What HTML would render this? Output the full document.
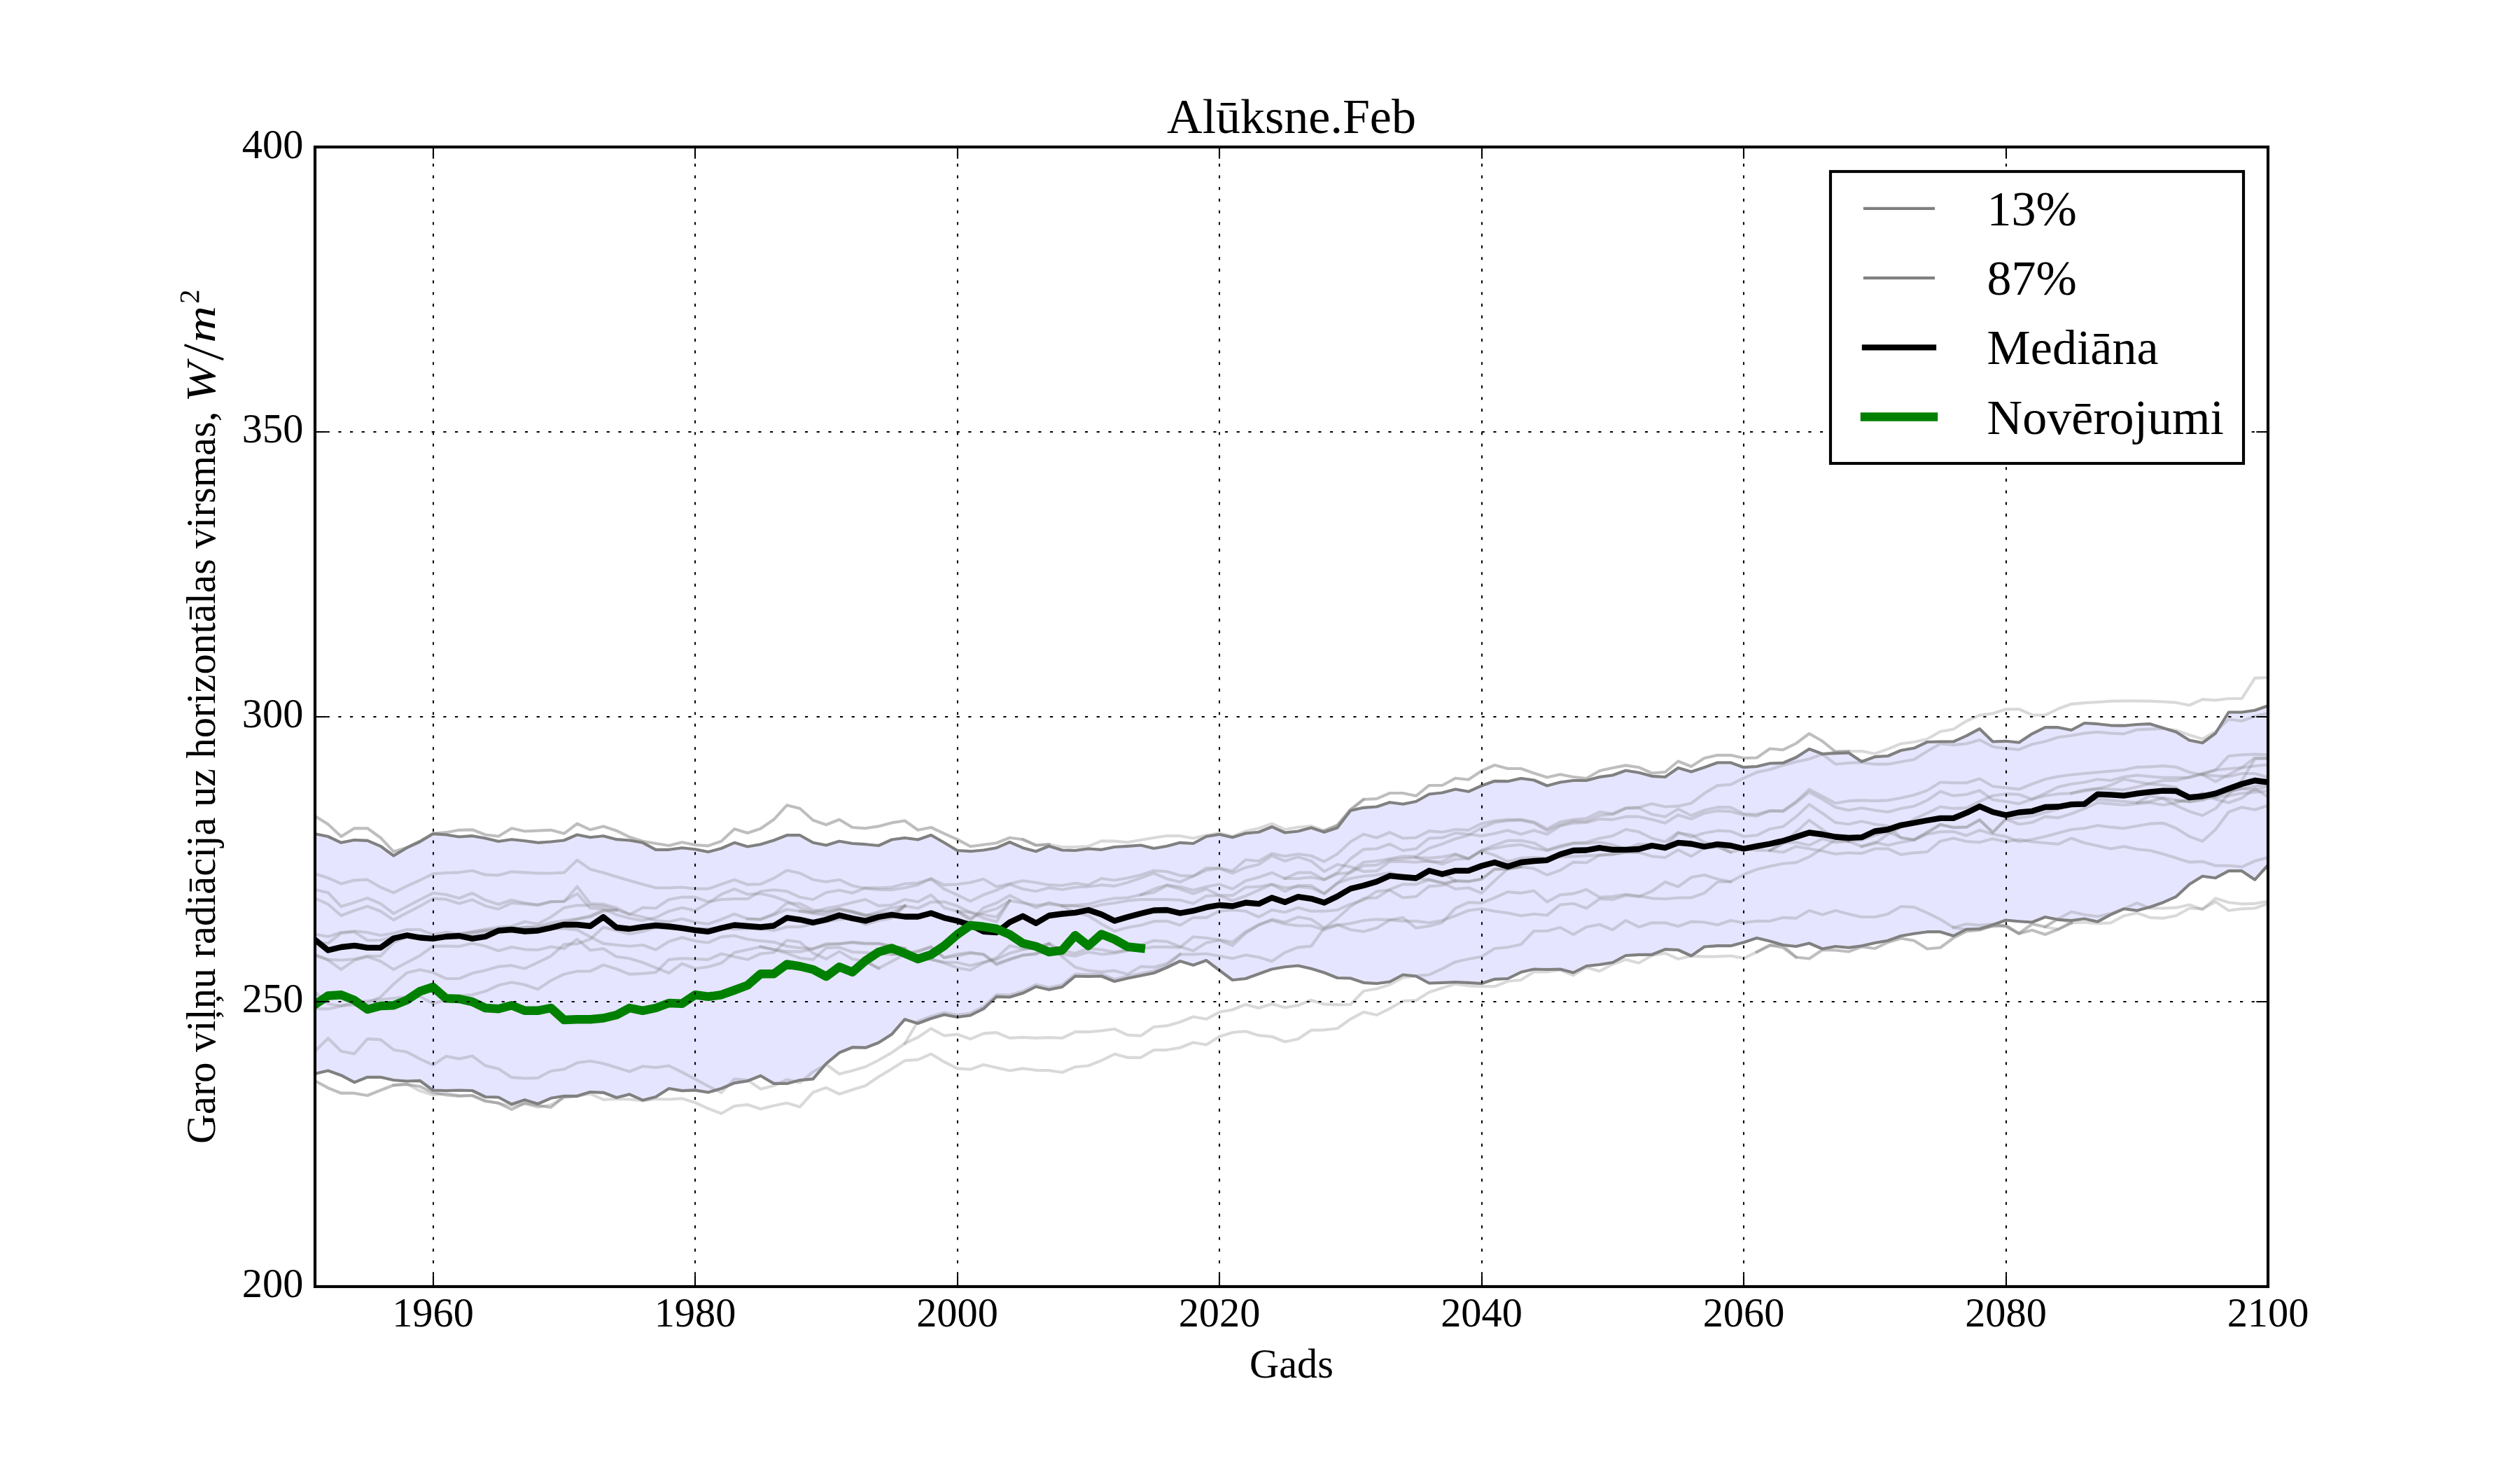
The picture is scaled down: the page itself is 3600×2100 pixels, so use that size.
<!DOCTYPE html>
<html><head><meta charset="utf-8"><style>html,body{margin:0;padding:0;background:#fff;width:3600px;height:2100px;overflow:hidden}</style></head>
<body><svg xmlns="http://www.w3.org/2000/svg" width="3600" height="2100" viewBox="0 0 3600 2100" style="display:block"><rect x="0" y="0" width="3600" height="2100" fill="#fff"/><defs><clipPath id="ax"><rect x="450" y="210" width="2790" height="1627.5"/></clipPath></defs><g clip-path="url(#ax)"><path d="M450.0 1191.2 L468.7 1195.0 L487.4 1203.8 L506.2 1200.0 L524.9 1200.8 L543.6 1208.8 L562.3 1222.5 L581.1 1211.2 L599.8 1202.5 L618.5 1191.2 L637.2 1192.5 L656.0 1195.5 L674.7 1194.2 L693.4 1197.5 L712.1 1202.0 L730.9 1199.2 L749.6 1201.2 L768.3 1203.8 L787.0 1202.5 L805.8 1200.5 L824.5 1192.5 L843.2 1196.2 L861.9 1194.2 L880.7 1199.2 L899.4 1200.5 L918.1 1203.8 L936.8 1213.8 L955.6 1213.8 L974.3 1211.2 L993.0 1213.2 L1011.7 1217.0 L1030.5 1212.0 L1049.2 1203.8 L1067.9 1209.5 L1086.6 1206.2 L1105.4 1200.5 L1124.1 1193.2 L1142.8 1193.2 L1161.5 1203.8 L1180.3 1207.5 L1199.0 1201.8 L1217.7 1205.0 L1236.4 1206.2 L1255.2 1208.0 L1273.9 1199.5 L1292.6 1197.0 L1311.3 1199.5 L1330.1 1193.0 L1348.8 1203.8 L1367.5 1215.0 L1386.2 1216.2 L1405.0 1214.5 L1423.7 1211.2 L1442.4 1203.0 L1461.1 1211.2 L1479.9 1216.2 L1498.6 1208.8 L1517.3 1214.5 L1536.0 1215.0 L1554.8 1212.5 L1573.5 1213.8 L1592.2 1210.0 L1610.9 1208.8 L1629.7 1207.5 L1648.4 1212.0 L1667.1 1208.8 L1685.8 1203.8 L1704.6 1205.0 L1723.3 1195.0 L1742.0 1192.0 L1760.7 1196.2 L1779.5 1190.5 L1798.2 1188.8 L1816.9 1181.2 L1835.6 1189.5 L1854.4 1187.5 L1873.1 1182.5 L1891.8 1188.8 L1910.5 1182.5 L1929.3 1158.0 L1948.0 1153.8 L1966.7 1152.5 L1985.4 1146.2 L2004.2 1148.8 L2022.9 1145.0 L2041.6 1134.5 L2060.3 1132.5 L2079.1 1127.5 L2097.8 1130.8 L2116.5 1122.5 L2135.2 1115.8 L2154.0 1116.2 L2172.7 1112.0 L2191.4 1114.5 L2210.1 1122.5 L2228.9 1117.5 L2247.6 1115.0 L2266.3 1115.0 L2285.0 1110.0 L2303.8 1107.5 L2322.5 1100.8 L2341.2 1103.8 L2359.9 1108.8 L2378.7 1110.0 L2397.4 1097.0 L2416.1 1102.5 L2434.8 1096.2 L2453.6 1089.5 L2472.3 1089.5 L2491.0 1096.2 L2509.7 1095.0 L2528.5 1090.5 L2547.2 1090.0 L2565.9 1082.0 L2584.6 1070.0 L2603.4 1077.0 L2622.1 1076.2 L2640.8 1075.5 L2659.5 1088.0 L2678.3 1081.2 L2697.0 1080.0 L2715.7 1072.0 L2734.4 1068.8 L2753.2 1060.0 L2771.9 1059.5 L2790.6 1059.5 L2809.3 1051.2 L2828.1 1041.2 L2846.8 1059.5 L2865.5 1058.8 L2884.2 1060.8 L2903.0 1048.3 L2921.7 1039.2 L2940.4 1039.2 L2959.1 1043.0 L2977.9 1033.0 L2996.6 1034.2 L3015.3 1036.3 L3034.0 1036.7 L3052.8 1035.0 L3071.5 1034.2 L3090.2 1040.0 L3108.9 1045.8 L3127.7 1057.5 L3146.4 1061.3 L3165.1 1047.5 L3183.8 1017.5 L3202.6 1017.5 L3221.3 1014.7 L3240.0 1008.3 L3240.0 1235.8 L3221.3 1256.7 L3202.6 1244.2 L3183.8 1244.2 L3165.1 1254.2 L3146.4 1251.7 L3127.7 1263.3 L3108.9 1280.8 L3090.2 1289.2 L3071.5 1295.8 L3052.8 1300.8 L3034.0 1298.3 L3015.3 1306.7 L2996.6 1316.7 L2977.9 1312.5 L2959.1 1315.0 L2940.4 1313.8 L2921.7 1310.0 L2903.0 1317.5 L2884.2 1316.2 L2865.5 1314.5 L2846.8 1321.2 L2828.1 1327.0 L2809.3 1327.5 L2790.6 1337.0 L2771.9 1331.2 L2753.2 1331.2 L2734.4 1333.8 L2715.7 1337.0 L2697.0 1343.8 L2678.3 1347.0 L2659.5 1351.2 L2640.8 1353.8 L2622.1 1352.0 L2603.4 1355.5 L2584.6 1347.5 L2565.9 1352.0 L2547.2 1350.0 L2528.5 1344.5 L2509.7 1340.0 L2491.0 1346.2 L2472.3 1351.2 L2453.6 1351.2 L2434.8 1352.5 L2416.1 1365.5 L2397.4 1357.0 L2378.7 1356.2 L2359.9 1363.8 L2341.2 1363.8 L2322.5 1365.0 L2303.8 1375.0 L2285.0 1378.0 L2266.3 1380.0 L2247.6 1389.5 L2228.9 1384.5 L2210.1 1385.0 L2191.4 1384.5 L2172.7 1388.8 L2154.0 1398.0 L2135.2 1398.8 L2116.5 1405.0 L2097.8 1403.8 L2079.1 1403.0 L2060.3 1403.8 L2041.6 1404.5 L2022.9 1394.5 L2004.2 1392.5 L1985.4 1402.5 L1966.7 1405.0 L1948.0 1403.8 L1929.3 1397.5 L1910.5 1397.0 L1891.8 1389.5 L1873.1 1383.8 L1854.4 1379.5 L1835.6 1381.2 L1816.9 1384.5 L1798.2 1391.2 L1779.5 1398.0 L1760.7 1400.0 L1742.0 1386.2 L1723.3 1372.0 L1704.6 1378.8 L1685.8 1373.0 L1667.1 1382.0 L1648.4 1390.0 L1629.7 1393.8 L1610.9 1397.5 L1592.2 1402.0 L1573.5 1394.5 L1554.8 1395.0 L1536.0 1394.5 L1517.3 1410.0 L1498.6 1413.8 L1479.9 1409.5 L1461.1 1418.8 L1442.4 1424.5 L1423.7 1423.8 L1405.0 1441.2 L1386.2 1450.5 L1367.5 1453.0 L1348.8 1449.5 L1330.1 1455.0 L1311.3 1462.0 L1292.6 1456.2 L1273.9 1477.6 L1255.2 1489.5 L1236.4 1496.7 L1217.7 1496.2 L1199.0 1503.8 L1180.3 1519.3 L1161.5 1541.4 L1142.8 1543.1 L1124.1 1547.9 L1105.4 1547.9 L1086.6 1536.7 L1067.9 1544.3 L1049.2 1547.1 L1030.5 1555.0 L1011.7 1560.5 L993.0 1557.4 L974.3 1558.1 L955.6 1555.0 L936.8 1566.9 L918.1 1571.7 L899.4 1563.3 L880.7 1568.0 L861.9 1560.8 L843.2 1560.0 L824.5 1565.8 L805.8 1565.8 L787.0 1568.8 L768.3 1577.0 L749.6 1571.2 L730.9 1577.5 L712.1 1567.5 L693.4 1567.0 L674.7 1558.0 L656.0 1557.5 L637.2 1558.0 L618.5 1557.5 L599.8 1543.8 L581.1 1544.5 L562.3 1543.0 L543.6 1538.8 L524.9 1538.8 L506.2 1546.2 L487.4 1536.2 L468.7 1529.5 L450.0 1533.8Z" fill="rgb(229,229,255)" stroke="rgb(229,229,255)" stroke-width="4.17" stroke-linejoin="round"/><path d="M450.0 1165.8 L468.7 1177.5 L487.4 1195.0 L506.2 1183.3 L524.9 1183.3 L543.6 1196.7 L562.3 1216.7 L581.1 1210.8 L599.8 1201.7 L618.5 1190.8 L637.2 1189.2 L656.0 1185.8 L674.7 1185.3 L693.4 1192.5 L712.1 1194.7 L730.9 1183.3 L749.6 1187.5 L768.3 1186.7 L787.0 1185.8 L805.8 1190.8 L824.5 1176.7 L843.2 1185.3 L861.9 1180.4 L880.7 1186.7 L899.4 1195.8 L918.1 1201.7 L936.8 1205.0 L955.6 1208.0 L974.3 1203.3 L993.0 1207.0 L1011.7 1208.3 L1030.5 1201.7 L1049.2 1184.2 L1067.9 1190.0 L1086.6 1183.7 L1105.4 1170.8 L1124.1 1150.3 L1142.8 1155.0 L1161.5 1171.7 L1180.3 1178.3 L1199.0 1170.8 L1217.7 1182.0 L1236.4 1183.3 L1255.2 1180.4 L1273.9 1175.4 L1292.6 1172.5 L1311.3 1185.8 L1330.1 1182.0 L1348.8 1190.8 L1367.5 1199.2 L1386.2 1209.2 L1405.0 1206.7 L1423.7 1204.2 L1442.4 1196.7 L1461.1 1199.2 L1479.9 1207.5 L1498.6 1206.3" fill="none" stroke="#808080" stroke-opacity="0.51" stroke-width="4.1667" stroke-linejoin="round" stroke-linecap="square"/><path d="M450.0 1248.3 L468.7 1254.2 L487.4 1262.5 L506.2 1257.5 L524.9 1256.7 L543.6 1267.5 L562.3 1275.3 L581.1 1265.8 L599.8 1257.5 L618.5 1248.3 L637.2 1247.0 L656.0 1246.3 L674.7 1243.7 L693.4 1249.7 L712.1 1250.3 L730.9 1245.3 L749.6 1246.3 L768.3 1247.5 L787.0 1247.5 L805.8 1246.7 L824.5 1228.7 L843.2 1241.7 L861.9 1246.7 L880.7 1252.5 L899.4 1258.0 L918.1 1263.3 L936.8 1268.3 L955.6 1268.3 L974.3 1267.5 L993.0 1269.7 L1011.7 1269.7 L1030.5 1263.3 L1049.2 1256.7 L1067.9 1263.7 L1086.6 1263.0 L1105.4 1254.7 L1124.1 1243.3 L1142.8 1247.5 L1161.5 1256.7 L1180.3 1259.7 L1199.0 1256.7 L1217.7 1265.3 L1236.4 1269.2 L1255.2 1270.8 L1273.9 1271.2 L1292.6 1268.3 L1311.3 1264.2 L1330.1 1255.0 L1348.8 1264.2 L1367.5 1263.3 L1386.2 1260.8 L1405.0 1255.8 L1423.7 1266.7 L1442.4 1262.5 L1461.1 1258.3 L1479.9 1260.8 L1498.6 1264.2 L1517.3 1265.0 L1536.0 1261.7 L1554.8 1264.2 L1573.5 1255.0 L1592.2 1257.5 L1610.9 1254.2 L1629.7 1250.0 L1648.4 1243.8 L1667.1 1245.0 L1685.8 1250.8 L1704.6 1251.7 L1723.3 1240.0 L1742.0 1240.0 L1760.7 1244.2 L1779.5 1228.3 L1798.2 1230.0 L1816.9 1219.2 L1835.6 1223.3 L1854.4 1220.0 L1873.1 1222.5 L1891.8 1230.8 L1910.5 1220.0 L1929.3 1202.5 L1948.0 1191.7 L1966.7 1196.7 L1985.4 1189.2 L2004.2 1197.5 L2022.9 1196.7 L2041.6 1187.1 L2060.3 1188.8 L2079.1 1185.0 L2097.8 1185.8 L2116.5 1176.7 L2135.2 1172.5 L2154.0 1170.8 L2172.7 1170.8 L2191.4 1174.2 L2210.1 1184.2 L2228.9 1174.2 L2247.6 1170.8 L2266.3 1169.2 L2285.0 1160.0 L2303.8 1162.5 L2322.5 1154.2 L2341.2 1153.3 L2359.9 1148.3 L2378.7 1152.5 L2397.4 1151.7 L2416.1 1147.5 L2434.8 1133.3 L2453.6 1122.1 L2472.3 1120.8 L2491.0 1111.7 L2509.7 1103.3 L2528.5 1099.2 L2547.2 1093.3 L2565.9 1088.3 L2584.6 1084.2 L2603.4 1077.5 L2622.1 1091.7 L2640.8 1090.0 L2659.5 1089.2 L2678.3 1091.7 L2697.0 1091.7 L2715.7 1088.3 L2734.4 1085.0 L2753.2 1073.3 L2771.9 1062.5 L2790.6 1064.2 L2809.3 1062.5 L2828.1 1057.0 L2846.8 1066.7 L2865.5 1069.2 L2884.2 1070.8 L2903.0 1063.3 L2921.7 1059.2 L2940.4 1053.3 L2959.1 1050.8 L2977.9 1047.5 L2996.6 1045.8 L3015.3 1047.5 L3034.0 1048.3 L3052.8 1042.5 L3071.5 1041.7 L3090.2 1040.8 L3108.9 1043.3 L3127.7 1050.0 L3146.4 1055.8 L3165.1 1045.0 L3183.8 1027.5 L3202.6 1030.0 L3221.3 1023.3 L3240.0 1019.2" fill="none" stroke="#808080" stroke-opacity="0.3" stroke-width="4.1667" stroke-linejoin="round" stroke-linecap="square"/><path d="M450.0 1270.8 L468.7 1275.3 L487.4 1295.0 L506.2 1289.2 L524.9 1283.0 L543.6 1290.8 L562.3 1305.0 L581.1 1295.0 L599.8 1285.3 L618.5 1275.8 L637.2 1278.0 L656.0 1283.3 L674.7 1275.8 L693.4 1285.8 L712.1 1292.0 L730.9 1285.8 L749.6 1290.0 L768.3 1292.5 L787.0 1288.0 L805.8 1288.0 L824.5 1266.7 L843.2 1290.8 L861.9 1291.7 L880.7 1296.7 L899.4 1306.7 L918.1 1296.7 L936.8 1297.5 L955.6 1285.0 L974.3 1281.7 L993.0 1281.7 L1011.7 1288.3 L1030.5 1285.0 L1049.2 1284.2 L1067.9 1284.2 L1086.6 1273.3 L1105.4 1271.3 L1124.1 1273.3 L1142.8 1281.7 L1161.5 1285.0 L1180.3 1275.0 L1199.0 1271.7 L1217.7 1275.8 L1236.4 1268.3 L1255.2 1268.3 L1273.9 1267.5 L1292.6 1262.5 L1311.3 1261.3 L1330.1 1255.8 L1348.8 1270.0 L1367.5 1278.3 L1386.2 1287.5 L1405.0 1278.3 L1423.7 1271.7 L1442.4 1263.3 L1461.1 1270.0 L1479.9 1273.3 L1498.6 1268.3 L1517.3 1270.8 L1536.0 1267.5 L1554.8 1266.7 L1573.5 1264.2 L1592.2 1265.8 L1610.9 1260.8 L1629.7 1254.2 L1648.4 1247.5 L1667.1 1255.4 L1685.8 1260.0 L1704.6 1251.7 L1723.3 1243.3 L1742.0 1240.8 L1760.7 1247.5 L1779.5 1239.2 L1798.2 1235.0 L1816.9 1222.5 L1835.6 1230.0 L1854.4 1224.2 L1873.1 1230.0 L1891.8 1245.0 L1910.5 1235.0 L1929.3 1238.3 L1948.0 1245.0 L1966.7 1244.2 L1985.4 1230.8 L2004.2 1230.8 L2022.9 1231.7 L2041.6 1230.0 L2060.3 1234.6 L2079.1 1227.5 L2097.8 1226.7 L2116.5 1215.8 L2135.2 1221.7 L2154.0 1230.8 L2172.7 1225.8 L2191.4 1225.0 L2210.1 1225.8 L2228.9 1224.2 L2247.6 1223.3 L2266.3 1222.5 L2285.0 1221.7 L2303.8 1220.0 L2322.5 1217.5 L2341.2 1217.5 L2359.9 1223.3 L2378.7 1225.0 L2397.4 1214.2 L2416.1 1223.3 L2434.8 1211.7 L2453.6 1210.0 L2472.3 1217.5 L2491.0 1213.0 L2509.7 1214.7 L2528.5 1215.0 L2547.2 1217.5 L2565.9 1209.2 L2584.6 1212.5 L2603.4 1215.8 L2622.1 1220.0 L2640.8 1218.3 L2659.5 1219.2 L2678.3 1212.5 L2697.0 1212.5 L2715.7 1220.8 L2734.4 1218.3 L2753.2 1217.0 L2771.9 1201.7 L2790.6 1197.5 L2809.3 1202.0 L2828.1 1203.3 L2846.8 1198.3 L2865.5 1202.5 L2884.2 1199.2 L2903.0 1202.5 L2921.7 1204.2 L2940.4 1205.8 L2959.1 1197.5 L2977.9 1204.2 L2996.6 1208.3 L3015.3 1212.5 L3034.0 1209.2 L3052.8 1213.3 L3071.5 1215.0 L3090.2 1220.0 L3108.9 1225.8 L3127.7 1231.7 L3146.4 1230.8 L3165.1 1236.7 L3183.8 1236.7 L3202.6 1238.3 L3221.3 1230.0 L3240.0 1225.0" fill="none" stroke="#808080" stroke-opacity="0.3" stroke-width="4.1667" stroke-linejoin="round" stroke-linecap="square"/><path d="M450.0 1283.3 L468.7 1291.7 L487.4 1308.0 L506.2 1300.8 L524.9 1294.7 L543.6 1301.7 L562.3 1314.2 L581.1 1304.2 L599.8 1294.7 L618.5 1283.7 L637.2 1284.7 L656.0 1290.8 L674.7 1285.3 L693.4 1294.2 L712.1 1298.7 L730.9 1290.0 L749.6 1291.3 L768.3 1293.3 L787.0 1288.3 L805.8 1287.5 L824.5 1276.7 L843.2 1297.5 L861.9 1298.3 L880.7 1306.7 L899.4 1311.7 L918.1 1315.0 L936.8 1310.8 L955.6 1301.7 L974.3 1296.7 L993.0 1300.8 L1011.7 1290.0 L1030.5 1277.5 L1049.2 1270.0 L1067.9 1277.5 L1086.6 1276.7 L1105.4 1280.8 L1124.1 1287.5 L1142.8 1296.7 L1161.5 1303.3 L1180.3 1303.3 L1199.0 1298.3 L1217.7 1302.5 L1236.4 1308.3 L1255.2 1305.0 L1273.9 1303.3 L1292.6 1294.2" fill="none" stroke="#808080" stroke-opacity="0.3" stroke-width="4.1667" stroke-linejoin="round" stroke-linecap="square"/><path d="M450.0 1334.7 L468.7 1338.0 L487.4 1332.0 L506.2 1330.3 L524.9 1332.0 L543.6 1336.3 L562.3 1333.3 L581.1 1328.0 L599.8 1328.0 L618.5 1335.0 L637.2 1331.7 L656.0 1334.2 L674.7 1330.8 L693.4 1327.5 L712.1 1324.7 L730.9 1323.3 L749.6 1316.7 L768.3 1320.0 L787.0 1310.0 L805.8 1296.7 L824.5 1293.3 L843.2 1293.3 L861.9 1294.6 L880.7 1300.0 L899.4 1305.8 L918.1 1310.0 L936.8 1315.0 L955.6 1316.7 L974.3 1312.5 L993.0 1317.5 L1011.7 1320.0 L1030.5 1313.3 L1049.2 1305.8 L1067.9 1312.5 L1086.6 1313.3 L1105.4 1305.8 L1124.1 1290.0 L1142.8 1290.8 L1161.5 1300.0 L1180.3 1301.7 L1199.0 1298.3 L1217.7 1301.7 L1236.4 1306.7 L1255.2 1310.0 L1273.9 1308.3 L1292.6 1294.2" fill="none" stroke="#808080" stroke-opacity="0.3" stroke-width="4.1667" stroke-linejoin="round" stroke-linecap="square"/><path d="M450.0 1345.8 L468.7 1347.5 L487.4 1333.0 L506.2 1331.3 L524.9 1343.3 L543.6 1343.0 L562.3 1338.0 L581.1 1335.0 L599.8 1337.5 L618.5 1340.0 L637.2 1338.0 L656.0 1338.0 L674.7 1334.2 L693.4 1330.8 L712.1 1328.0 L730.9 1327.5 L749.6 1324.7 L768.3 1325.3 L787.0 1321.7 L805.8 1318.3 L824.5 1313.3 L843.2 1310.0 L861.9 1301.7 L880.7 1300.0" fill="none" stroke="#808080" stroke-opacity="0.3" stroke-width="4.1667" stroke-linejoin="round" stroke-linecap="square"/><path d="M712.1 1328.0 L730.9 1328.3 L749.6 1328.3 L768.3 1330.8 L787.0 1326.7 L805.8 1326.7 L824.5 1328.3 L843.2 1338.3 L861.9 1347.9 L880.7 1350.0 L899.4 1351.7 L918.1 1350.0 L936.8 1356.7 L955.6 1345.0 L974.3 1339.2 L993.0 1344.2 L1011.7 1346.7 L1030.5 1338.3 L1049.2 1336.7 L1067.9 1341.7 L1086.6 1344.2 L1105.4 1345.8 L1124.1 1351.7 L1142.8 1354.2 L1161.5 1355.0 L1180.3 1350.0 L1199.0 1348.3 L1217.7 1346.7 L1236.4 1348.3 L1255.2 1348.3 L1273.9 1351.7 L1292.6 1355.0" fill="none" stroke="#808080" stroke-opacity="0.3" stroke-width="4.1667" stroke-linejoin="round" stroke-linecap="square"/><path d="M656.0 1334.2 L674.7 1331.7 L693.4 1329.2 L712.1 1327.5 L730.9 1326.3 L749.6 1325.0 L768.3 1323.3 L787.0 1318.3 L805.8 1315.0 L824.5 1312.5 L843.2 1308.3 L861.9 1300.0 L880.7 1300.0" fill="none" stroke="#808080" stroke-opacity="0.3" stroke-width="4.1667" stroke-linejoin="round" stroke-linecap="square"/><path d="M450.0 1365.0 L468.7 1370.8 L487.4 1371.7 L506.2 1370.0 L524.9 1365.8 L543.6 1365.8 L562.3 1346.7 L581.1 1338.3 L599.8 1336.7 L618.5 1340.0 L637.2 1338.0" fill="none" stroke="#808080" stroke-opacity="0.3" stroke-width="4.1667" stroke-linejoin="round" stroke-linecap="square"/><path d="M450.0 1363.3 L468.7 1371.7 L487.4 1385.0 L506.2 1371.7 L524.9 1366.7 L543.6 1373.3 L562.3 1385.0 L581.1 1375.0 L599.8 1365.3 L618.5 1351.7 L637.2 1351.7 L656.0 1352.0 L674.7 1347.5 L693.4 1351.7 L712.1 1358.3 L730.9 1353.0 L749.6 1356.3 L768.3 1357.0 L787.0 1352.5 L805.8 1355.3 L824.5 1341.7 L843.2 1357.5 L861.9 1355.2 L880.7 1366.7 L899.4 1369.2 L918.1 1375.0 L936.8 1382.5 L955.6 1390.0 L974.3 1376.7 L993.0 1383.7 L1011.7 1381.3 L1030.5 1375.8 L1049.2 1360.8 L1067.9 1356.7 L1086.6 1352.5 L1105.4 1356.3 L1124.1 1359.2 L1142.8 1359.7 L1161.5 1355.8 L1180.3 1348.0 L1199.0 1348.3 L1217.7 1345.8 L1236.4 1347.5 L1255.2 1347.5 L1273.9 1351.7 L1292.6 1355.0" fill="none" stroke="#808080" stroke-opacity="0.3" stroke-width="4.1667" stroke-linejoin="round" stroke-linecap="square"/><path d="M450.0 1417.1 L468.7 1434.2 L487.4 1436.7 L506.2 1435.7 L524.9 1432.6 L543.6 1424.4 L562.3 1405.8 L581.1 1389.8 L599.8 1385.2 L618.5 1389.3 L637.2 1398.0 L656.0 1398.0 L674.7 1390.3 L693.4 1386.2 L712.1 1380.8 L730.9 1379.2 L749.6 1383.7 L768.3 1375.0 L787.0 1365.8 L805.8 1349.2 L824.5 1348.3 L843.2 1341.7 L861.9 1324.6 L880.7 1329.2 L899.4 1334.2 L918.1 1330.8 L936.8 1325.0 L955.6 1326.7 L974.3 1325.0 L993.0 1326.7 L1011.7 1326.7 L1030.5 1325.8 L1049.2 1327.5 L1067.9 1326.7 L1086.6 1326.7 L1105.4 1329.2 L1124.1 1324.2 L1142.8 1324.2 L1161.5 1320.0 L1180.3 1316.7 L1199.0 1313.3 L1217.7 1311.7 L1236.4 1320.8 L1255.2 1315.0 L1273.9 1311.7 L1292.6 1294.2" fill="none" stroke="#808080" stroke-opacity="0.3" stroke-width="4.1667" stroke-linejoin="round" stroke-linecap="square"/><path d="M450.0 1440.9 L468.7 1441.4 L487.4 1437.3 L506.2 1432.0 L524.9 1430.0 L543.6 1428.0 L562.3 1426.0 L581.1 1424.0 L599.8 1423.3 L618.5 1433.7 L637.2 1428.5 L656.0 1422.3 L674.7 1421.3 L693.4 1416.1 L712.1 1407.5 L730.9 1403.3 L749.6 1406.7 L768.3 1413.3 L787.0 1400.8 L805.8 1391.7 L824.5 1387.5 L843.2 1387.5 L861.9 1378.5 L880.7 1384.2 L899.4 1391.7 L918.1 1390.8 L936.8 1389.2 L955.6 1370.8 L974.3 1369.2 L993.0 1370.0 L1011.7 1370.8 L1030.5 1362.5 L1049.2 1366.7 L1067.9 1370.8 L1086.6 1362.5 L1105.4 1360.8 L1124.1 1343.3 L1142.8 1345.8 L1161.5 1361.7 L1180.3 1370.0 L1199.0 1359.2 L1217.7 1370.0 L1236.4 1373.3 L1255.2 1383.3" fill="none" stroke="#808080" stroke-opacity="0.3" stroke-width="4.1667" stroke-linejoin="round" stroke-linecap="square"/><path d="M450.0 1501.7 L468.7 1483.2 L487.4 1501.7 L506.2 1505.4 L524.9 1484.2 L543.6 1485.2 L562.3 1499.7 L581.1 1502.8 L599.8 1512.6 L618.5 1521.4 L637.2 1509.0 L656.0 1512.6 L674.7 1508.5 L693.4 1522.4 L712.1 1526.7 L730.9 1539.2 L749.6 1540.3 L768.3 1540.0 L787.0 1530.0 L805.8 1527.5 L824.5 1518.3 L843.2 1515.8 L861.9 1519.2 L880.7 1525.0 L899.4 1530.8 L918.1 1523.3 L936.8 1525.0 L955.6 1522.5 L974.3 1531.7 L993.0 1541.7 L1011.7 1551.7 L1030.5 1561.0 L1049.2 1541.4 L1067.9 1543.1 L1086.6 1555.7 L1105.4 1551.0 L1124.1 1542.4 L1142.8 1546.7 L1161.5 1531.2 L1180.3 1520.5 L1199.0 1534.3 L1217.7 1529.5 L1236.4 1524.0 L1255.2 1514.5 L1273.9 1503.8 L1292.6 1490.7 L1311.3 1481.9 L1330.1 1469.3 L1348.8 1479.5 L1367.5 1477.6 L1386.2 1484.3 L1405.0 1476.4 L1423.7 1475.2 L1442.4 1482.9 L1461.1 1481.9 L1479.9 1482.9 L1498.6 1482.1 L1517.3 1483.0 L1536.0 1474.2 L1554.8 1474.2 L1573.5 1472.5 L1592.2 1470.0 L1610.9 1478.7 L1629.7 1479.7 L1648.4 1467.0 L1667.1 1465.4 L1685.8 1460.0 L1704.6 1452.5 L1723.3 1455.8 L1742.0 1445.8 L1760.7 1442.5 L1779.5 1435.0 L1798.2 1440.0 L1816.9 1434.2 L1835.6 1439.2 L1854.4 1436.3 L1873.1 1428.7 L1891.8 1434.7 L1910.5 1435.3 L1929.3 1435.0 L1948.0 1415.8 L1966.7 1412.5 L1985.4 1406.7 L2004.2 1396.7 L2022.9 1394.2 L2041.6 1392.5 L2060.3 1383.8 L2079.1 1374.2 L2097.8 1370.0 L2116.5 1366.7 L2135.2 1355.0 L2154.0 1353.3 L2172.7 1349.2 L2191.4 1330.0 L2210.1 1330.0 L2228.9 1325.0 L2247.6 1335.0 L2266.3 1324.2 L2285.0 1320.8 L2303.8 1328.3 L2322.5 1315.0 L2341.2 1324.2 L2359.9 1318.3 L2378.7 1318.3 L2397.4 1323.3 L2416.1 1316.7 L2434.8 1317.5 L2453.6 1321.2 L2472.3 1315.0 L2491.0 1318.3 L2509.7 1315.8 L2528.5 1315.8 L2547.2 1310.8 L2565.9 1311.7 L2584.6 1300.8 L2603.4 1306.7 L2622.1 1300.8 L2640.8 1305.8 L2659.5 1310.0 L2678.3 1310.0 L2697.0 1305.8 L2715.7 1295.0 L2734.4 1295.8 L2753.2 1304.2 L2771.9 1313.3 L2790.6 1325.0 L2809.3 1320.0 L2828.1 1321.7 L2846.8 1320.0 L2865.5 1324.2 L2884.2 1333.3 L2903.0 1320.0 L2921.7 1324.2 L2940.4 1312.5 L2959.1 1302.5 L2977.9 1306.7 L2996.6 1309.2 L3015.3 1305.0 L3034.0 1298.3 L3052.8 1290.0 L3071.5 1297.5 L3090.2 1297.5 L3108.9 1296.7 L3127.7 1292.5 L3146.4 1299.2 L3165.1 1283.3 L3183.8 1289.2 L3202.6 1291.3 L3221.3 1290.8 L3240.0 1287.5" fill="none" stroke="#808080" stroke-opacity="0.3" stroke-width="4.1667" stroke-linejoin="round" stroke-linecap="square"/><path d="M450.0 1544.2 L468.7 1554.2 L487.4 1561.7 L506.2 1561.7 L524.9 1565.0 L543.6 1557.5 L562.3 1550.3 L581.1 1549.2 L599.8 1552.0 L618.5 1560.8 L637.2 1564.2 L656.0 1565.8 L674.7 1565.0 L693.4 1573.3 L712.1 1575.8 L730.9 1585.0 L749.6 1575.8 L768.3 1579.2 L787.0 1582.0 L805.8 1566.7 L824.5 1566.0" fill="none" stroke="#808080" stroke-opacity="0.51" stroke-width="4.1667" stroke-linejoin="round" stroke-linecap="square"/><path d="M562.3 1550.3 L581.1 1548.3 L599.8 1558.3 L618.5 1564.2 L637.2 1561.7 L656.0 1565.0 L674.7 1565.0 L693.4 1572.0 L712.1 1576.0 L730.9 1580.0 L749.6 1576.7 L768.3 1581.7 L787.0 1578.3 L805.8 1568.0 L824.5 1566.0 L843.2 1562.5 L861.9 1570.8 L880.7 1570.0 L899.4 1570.5 L918.1 1572.4 L936.8 1570.0 L955.6 1570.5 L974.3 1569.3 L993.0 1575.2 L1011.7 1583.6 L1030.5 1590.7 L1049.2 1580.0 L1067.9 1578.1 L1086.6 1584.3 L1105.4 1579.5 L1124.1 1575.7 L1142.8 1581.2 L1161.5 1560.5 L1180.3 1553.8 L1199.0 1562.9 L1217.7 1556.7 L1236.4 1551.0 L1255.2 1538.3 L1273.9 1527.1 L1292.6 1515.2 L1311.3 1513.8 L1330.1 1505.7 L1348.8 1516.9 L1367.5 1526.4 L1386.2 1527.6 L1405.0 1521.0 L1423.7 1525.2 L1442.4 1529.5 L1461.1 1526.4 L1479.9 1528.8 L1498.6 1529.2 L1517.3 1532.0 L1536.0 1524.2 L1554.8 1522.5 L1573.5 1515.0 L1592.2 1505.8 L1610.9 1510.8 L1629.7 1510.8 L1648.4 1500.0 L1667.1 1499.8 L1685.8 1496.7 L1704.6 1489.2 L1723.3 1492.5 L1742.0 1480.8 L1760.7 1475.0 L1779.5 1473.3 L1798.2 1479.2 L1816.9 1480.8 L1835.6 1488.3 L1854.4 1484.2 L1873.1 1471.7 L1891.8 1471.3 L1910.5 1469.2 L1929.3 1455.8 L1948.0 1445.8 L1966.7 1450.0 L1985.4 1440.8 L2004.2 1430.0 L2022.9 1429.2 L2041.6 1417.5 L2060.3 1411.2 L2079.1 1405.8 L2097.8 1408.3 L2116.5 1409.2 L2135.2 1409.2 L2154.0 1401.7 L2172.7 1400.0 L2191.4 1388.3 L2210.1 1388.3 L2228.9 1385.8 L2247.6 1393.3 L2266.3 1381.7 L2285.0 1387.5 L2303.8 1377.5 L2322.5 1370.8 L2341.2 1375.8 L2359.9 1365.0 L2378.7 1361.7 L2397.4 1370.0 L2416.1 1365.8 L2434.8 1366.7 L2453.6 1366.4 L2472.3 1365.5 L2491.0 1368.8 L2509.7 1360.0 L2528.5 1351.2 L2547.2 1350.0 L2565.9 1367.5" fill="none" stroke="#808080" stroke-opacity="0.3" stroke-width="4.1667" stroke-linejoin="round" stroke-linecap="square"/><path d="M1067.9 1312.5 L1086.6 1313.3 L1105.4 1306.7 L1124.1 1299.2 L1142.8 1301.7 L1161.5 1305.0 L1180.3 1307.5 L1199.0 1300.0 L1217.7 1303.3 L1236.4 1308.3 L1255.2 1302.5 L1273.9 1296.7 L1292.6 1294.2 L1311.3 1297.5 L1330.1 1288.7 L1348.8 1288.3 L1367.5 1294.2 L1386.2 1303.3 L1405.0 1306.7 L1423.7 1310.0 L1442.4 1286.7" fill="none" stroke="#808080" stroke-opacity="0.3" stroke-width="4.1667" stroke-linejoin="round" stroke-linecap="square"/><path d="M1142.8 1301.7 L1161.5 1303.3 L1180.3 1297.5 L1199.0 1294.2 L1217.7 1289.2 L1236.4 1285.0 L1255.2 1294.2 L1273.9 1292.9 L1292.6 1285.0 L1311.3 1288.3 L1330.1 1278.3 L1348.8 1296.7 L1367.5 1301.7 L1386.2 1303.3 L1405.0 1311.7 L1423.7 1316.7 L1442.4 1286.7" fill="none" stroke="#808080" stroke-opacity="0.3" stroke-width="4.1667" stroke-linejoin="round" stroke-linecap="square"/><path d="M1086.6 1352.5 L1105.4 1356.7 L1124.1 1361.7 L1142.8 1368.7 L1161.5 1370.8 L1180.3 1354.2 L1199.0 1353.3 L1217.7 1360.0 L1236.4 1360.8 L1255.2 1362.5 L1273.9 1363.3 L1292.6 1363.3" fill="none" stroke="#808080" stroke-opacity="0.3" stroke-width="4.1667" stroke-linejoin="round" stroke-linecap="square"/><path d="M1461.1 1199.2 L1479.9 1207.5 L1498.6 1206.3 L1517.3 1210.0 L1536.0 1210.0 L1554.8 1209.2 L1573.5 1201.3 L1592.2 1201.7 L1610.9 1203.3 L1629.7 1200.0 L1648.4 1196.7 L1667.1 1194.0 L1685.8 1194.2 L1704.6 1197.5 L1723.3 1193.3 L1742.0 1190.0 L1760.7 1195.0 L1779.5 1187.5 L1798.2 1183.3 L1816.9 1176.7 L1835.6 1185.0 L1854.4 1181.7 L1873.1 1180.0 L1891.8 1186.7 L1910.5 1179.2 L1929.3 1158.3 L1948.0 1142.0" fill="none" stroke="#808080" stroke-opacity="0.3" stroke-width="4.1667" stroke-linejoin="round" stroke-linecap="square"/><path d="M1367.5 1301.7 L1386.2 1315.0 L1405.0 1296.7 L1423.7 1290.0 L1442.4 1279.2 L1461.1 1288.3 L1479.9 1296.7 L1498.6 1289.2 L1517.3 1294.2 L1536.0 1293.3 L1554.8 1291.7 L1573.5 1286.7 L1592.2 1283.3 L1610.9 1282.5 L1629.7 1278.3 L1648.4 1270.0 L1667.1 1264.2 L1685.8 1266.7 L1704.6 1271.7 L1723.3 1266.7 L1742.0 1263.3 L1760.7 1270.0 L1779.5 1258.3 L1798.2 1253.3 L1816.9 1246.7 L1835.6 1255.0 L1854.4 1246.7 L1873.1 1246.7 L1891.8 1256.7 L1910.5 1248.3 L1929.3 1246.7 L1948.0 1236.7 L1966.7 1235.8 L1985.4 1228.3 L2004.2 1226.7 L2022.9 1225.0 L2041.6 1230.8 L2060.3 1230.8 L2079.1 1220.8 L2097.8 1226.7 L2116.5 1215.0 L2135.2 1211.7 L2154.0 1208.3 L2172.7 1206.7 L2191.4 1211.7 L2210.1 1215.0 L2228.9 1210.0 L2247.6 1205.0 L2266.3 1205.0 L2285.0 1203.3 L2303.8 1206.7 L2322.5 1213.3 L2341.2 1205.8 L2359.9 1206.7 L2378.7 1210.0 L2397.4 1190.0 L2416.1 1192.5 L2434.8 1203.3 L2453.6 1208.3 L2472.3 1217.5" fill="none" stroke="#808080" stroke-opacity="0.3" stroke-width="4.1667" stroke-linejoin="round" stroke-linecap="square"/><path d="M1367.5 1301.7 L1386.2 1311.7 L1405.0 1303.3 L1423.7 1298.3 L1442.4 1286.7 L1461.1 1290.0 L1479.9 1293.3 L1498.6 1291.7 L1517.3 1293.3 L1536.0 1294.2 L1554.8 1296.7 L1573.5 1292.5 L1592.2 1290.0 L1610.9 1286.7 L1629.7 1285.0 L1648.4 1285.0 L1667.1 1285.0 L1685.8 1285.8 L1704.6 1290.8 L1723.3 1280.0 L1742.0 1279.2 L1760.7 1279.2 L1779.5 1267.5 L1798.2 1266.7 L1816.9 1263.3 L1835.6 1273.3 L1854.4 1265.0 L1873.1 1265.0 L1891.8 1276.7 L1910.5 1261.7 L1929.3 1255.0 L1948.0 1251.7 L1966.7 1250.0 L1985.4 1246.7 L2004.2 1253.3 L2022.9 1255.0 L2041.6 1245.0 L2060.3 1246.7 L2079.1 1258.3" fill="none" stroke="#808080" stroke-opacity="0.3" stroke-width="4.1667" stroke-linejoin="round" stroke-linecap="square"/><path d="M1517.3 1294.2 L1536.0 1303.3 L1554.8 1308.3 L1573.5 1320.0 L1592.2 1330.0 L1610.9 1325.0 L1629.7 1321.7 L1648.4 1316.2 L1667.1 1315.8 L1685.8 1321.7 L1704.6 1310.8 L1723.3 1310.8 L1742.0 1301.7 L1760.7 1300.0 L1779.5 1301.7 L1798.2 1310.0 L1816.9 1300.0 L1835.6 1303.3 L1854.4 1296.7 L1873.1 1301.7 L1891.8 1301.7 L1910.5 1300.0 L1929.3 1291.7 L1948.0 1285.8 L1966.7 1273.3 L1985.4 1271.7 L2004.2 1282.5 L2022.9 1280.8 L2041.6 1266.2 L2060.3 1265.0 L2079.1 1258.3 L2097.8 1259.2 L2116.5 1255.8 L2135.2 1241.7 L2154.0 1241.3 L2172.7 1238.3" fill="none" stroke="#808080" stroke-opacity="0.3" stroke-width="4.1667" stroke-linejoin="round" stroke-linecap="square"/><path d="M1236.4 1373.3 L1255.2 1383.3 L1273.9 1373.3 L1292.6 1363.3 L1311.3 1358.3 L1330.1 1353.3 L1348.8 1368.3 L1367.5 1365.8 L1386.2 1361.7 L1405.0 1363.3 L1423.7 1376.7 L1442.4 1370.0 L1461.1 1364.2 L1479.9 1363.3 L1498.6 1348.3 L1517.3 1366.7 L1536.0 1381.7 L1554.8 1386.7 L1573.5 1388.3 L1592.2 1386.7 L1610.9 1391.7 L1629.7 1380.8 L1648.4 1381.7 L1667.1 1376.2 L1685.8 1363.3 L1704.6 1363.3 L1723.3 1362.5 L1742.0 1365.8 L1760.7 1369.2 L1779.5 1364.2 L1798.2 1367.5 L1816.9 1373.3 L1835.6 1360.8 L1854.4 1353.3 L1873.1 1351.7 L1891.8 1325.8 L1910.5 1311.7 L1929.3 1295.0 L1948.0 1283.3 L1966.7 1282.5 L1985.4 1270.8 L2004.2 1263.3 L2022.9 1263.3 L2041.6 1256.7 L2060.3 1261.7 L2079.1 1258.3 L2097.8 1259.2 L2116.5 1255.8 L2135.2 1241.7 L2154.0 1241.7 L2172.7 1238.3 L2191.4 1240.8 L2210.1 1250.0 L2228.9 1243.3 L2247.6 1231.7 L2266.3 1232.5 L2285.0 1221.7 L2303.8 1220.8 L2322.5 1217.5 L2341.2 1217.5" fill="none" stroke="#808080" stroke-opacity="0.3" stroke-width="4.1667" stroke-linejoin="round" stroke-linecap="square"/><path d="M1273.9 1351.7 L1292.6 1355.0 L1311.3 1368.0 L1330.1 1370.0 L1348.8 1375.8 L1367.5 1382.5 L1386.2 1386.0 L1405.0 1375.5 L1423.7 1368.3 L1442.4 1351.0 L1461.1 1355.0 L1479.9 1355.0 L1498.6 1347.5 L1517.3 1358.3 L1536.0 1361.7 L1554.8 1355.0 L1573.5 1356.7 L1592.2 1360.0 L1610.9 1356.7 L1629.7 1350.0 L1648.4 1343.8 L1667.1 1345.0 L1685.8 1352.5 L1704.6 1358.3 L1723.3 1346.7 L1742.0 1343.3 L1760.7 1350.8 L1779.5 1333.3 L1798.2 1321.7 L1816.9 1313.3 L1835.6 1317.5 L1854.4 1310.0 L1873.1 1313.3 L1891.8 1325.8 L1910.5 1320.8 L1929.3 1328.3 L1948.0 1330.8 L1966.7 1325.8 L1985.4 1314.2 L2004.2 1310.8 L2022.9 1325.8 L2041.6 1322.9 L2060.3 1317.9 L2079.1 1297.5 L2097.8 1289.2 L2116.5 1290.0 L2135.2 1282.5 L2154.0 1274.2 L2172.7 1275.8 L2191.4 1272.5 L2210.1 1288.3 L2228.9 1278.3 L2247.6 1276.7 L2266.3 1270.8 L2285.0 1281.7 L2303.8 1280.8 L2322.5 1277.5 L2341.2 1280.0 L2359.9 1283.3 L2378.7 1284.2 L2397.4 1282.5 L2416.1 1282.5 L2434.8 1275.8 L2453.6 1260.0 L2472.3 1259.6 L2491.0 1249.2 L2509.7 1242.1 L2528.5 1237.5 L2547.2 1233.8 L2565.9 1232.1 L2584.6 1224.2 L2603.4 1212.1 L2622.1 1200.0 L2640.8 1201.7" fill="none" stroke="#808080" stroke-opacity="0.3" stroke-width="4.1667" stroke-linejoin="round" stroke-linecap="square"/><path d="M1273.9 1363.3 L1292.6 1361.7 L1311.3 1360.0 L1330.1 1352.0 L1348.8 1368.0 L1367.5 1363.0 L1386.2 1360.5 L1405.0 1363.5 L1423.7 1378.0 L1442.4 1371.0 L1461.1 1365.0 L1479.9 1362.0 L1498.6 1360.0 L1517.3 1363.3 L1536.0 1365.8 L1554.8 1360.0 L1573.5 1363.3 L1592.2 1361.7 L1610.9 1358.3 L1629.7 1355.0 L1648.4 1352.9 L1667.1 1352.9 L1685.8 1353.3 L1704.6 1338.3 L1723.3 1340.0 L1742.0 1342.5 L1760.7 1345.8 L1779.5 1330.8 L1798.2 1320.8 L1816.9 1315.0 L1835.6 1320.0 L1854.4 1322.5 L1873.1 1322.5 L1891.8 1328.3 L1910.5 1321.7 L1929.3 1319.2 L1948.0 1315.0 L1966.7 1313.3 L1985.4 1314.2 L2004.2 1315.8 L2022.9 1315.8 L2041.6 1318.3 L2060.3 1315.0 L2079.1 1308.3 L2097.8 1300.8 L2116.5 1298.3 L2135.2 1301.7 L2154.0 1304.2 L2172.7 1308.3 L2191.4 1305.8 L2210.1 1307.5 L2228.9 1292.5 L2247.6 1290.8 L2266.3 1297.5 L2285.0 1284.2 L2303.8 1285.0 L2322.5 1279.2 L2341.2 1280.8 L2359.9 1273.3 L2378.7 1260.0 L2397.4 1266.7 L2416.1 1253.3 L2434.8 1250.0 L2453.6 1255.8 L2472.3 1259.6" fill="none" stroke="#808080" stroke-opacity="0.3" stroke-width="4.1667" stroke-linejoin="round" stroke-linecap="square"/><path d="M1311.3 1368.0 L1330.1 1371.0 L1348.8 1374.5 L1367.5 1375.0 L1386.2 1379.5 L1405.0 1374.5 L1423.7 1370.5 L1442.4 1361.7 L1461.1 1356.7 L1479.9 1353.3 L1498.6 1348.3" fill="none" stroke="#808080" stroke-opacity="0.3" stroke-width="4.1667" stroke-linejoin="round" stroke-linecap="square"/><path d="M1292.6 1490.7 L1311.3 1459.0 L1330.1 1452.0 L1348.8 1446.5 L1367.5 1450.0 L1386.2 1447.5 L1405.0 1438.2 L1423.7 1420.8 L1442.4 1421.5 L1461.1 1415.8 L1479.9 1406.5 L1498.6 1410.8 L1517.3 1407.0 L1536.0 1391.5 L1554.8 1392.0 L1573.5 1391.5 L1592.2 1399.0 L1610.9 1394.5 L1629.7 1390.8 L1648.4 1387.0 L1667.1 1379.0 L1685.8 1363.3" fill="none" stroke="#808080" stroke-opacity="0.3" stroke-width="4.1667" stroke-linejoin="round" stroke-linecap="square"/><path d="M1891.8 1186.7 L1910.5 1178.8 L1929.3 1156.2 L1948.0 1142.0 L1966.7 1141.2 L1985.4 1133.0 L2004.2 1133.0 L2022.9 1137.0 L2041.6 1122.0 L2060.3 1122.0 L2079.1 1111.8 L2097.8 1113.8 L2116.5 1101.2 L2135.2 1093.0 L2154.0 1098.0 L2172.7 1098.0 L2191.4 1104.5 L2210.1 1110.5 L2228.9 1106.2 L2247.6 1110.0 L2266.3 1112.0 L2285.0 1101.2 L2303.8 1097.0 L2322.5 1093.4 L2341.2 1096.2 L2359.9 1104.5 L2378.7 1103.0 L2397.4 1087.5 L2416.1 1095.0 L2434.8 1083.0 L2453.6 1078.8 L2472.3 1078.8 L2491.0 1083.0 L2509.7 1082.5 L2528.5 1069.5 L2547.2 1071.2 L2565.9 1062.0 L2584.6 1048.0 L2603.4 1058.8 L2622.1 1073.8 L2640.8 1073.3" fill="none" stroke="#808080" stroke-opacity="0.51" stroke-width="4.1667" stroke-linejoin="round" stroke-linecap="square"/><path d="M1835.6 1255.0 L1854.4 1255.0 L1873.1 1253.3 L1891.8 1256.7 L1910.5 1246.7 L1929.3 1226.7 L1948.0 1213.3 L1966.7 1212.5 L1985.4 1205.8 L2004.2 1215.0 L2022.9 1212.5 L2041.6 1197.5 L2060.3 1196.7 L2079.1 1190.0 L2097.8 1191.7 L2116.5 1194.2 L2135.2 1190.8 L2154.0 1186.3 L2172.7 1191.7 L2191.4 1186.3 L2210.1 1191.7 L2228.9 1180.0 L2247.6 1175.8 L2266.3 1175.0 L2285.0 1170.0 L2303.8 1170.8 L2322.5 1166.7 L2341.2 1166.7 L2359.9 1170.8 L2378.7 1175.8 L2397.4 1164.2 L2416.1 1170.0 L2434.8 1161.7 L2453.6 1158.3 L2472.3 1159.2 L2491.0 1164.2 L2509.7 1165.8 L2528.5 1158.3 L2547.2 1159.2 L2565.9 1146.7 L2584.6 1131.7 L2603.4 1141.7 L2622.1 1153.3 L2640.8 1157.5 L2659.5 1154.2 L2678.3 1157.5 L2697.0 1160.0 L2715.7 1155.0 L2734.4 1151.7 L2753.2 1143.3 L2771.9 1130.8 L2790.6 1136.7 L2809.3 1135.0 L2828.1 1129.2 L2846.8 1142.5 L2865.5 1145.0 L2884.2 1148.3 L2903.0 1141.7 L2921.7 1136.7 L2940.4 1134.2 L2959.1 1133.3 L2977.9 1130.0 L2996.6 1126.7 L3015.3 1127.5 L3034.0 1128.3 L3052.8 1124.2 L3071.5 1119.2 L3090.2 1115.0 L3108.9 1115.0 L3127.7 1110.0 L3146.4 1105.0 L3165.1 1100.0 L3183.8 1098.3 L3202.6 1096.7 L3221.3 1094.2 L3240.0 1092.5" fill="none" stroke="#808080" stroke-opacity="0.3" stroke-width="4.1667" stroke-linejoin="round" stroke-linecap="square"/><path d="M1629.7 1278.3 L1648.4 1275.0 L1667.1 1265.0 L1685.8 1270.0 L1704.6 1276.7 L1723.3 1270.0 L1742.0 1279.2 L1760.7 1286.7 L1779.5 1280.0 L1798.2 1271.7 L1816.9 1263.3 L1835.6 1268.3 L1854.4 1266.7 L1873.1 1268.3 L1891.8 1276.7 L1910.5 1261.7 L1929.3 1245.0 L1948.0 1231.7 L1966.7 1230.0 L1985.4 1226.7 L2004.2 1223.3 L2022.9 1223.3 L2041.6 1211.7 L2060.3 1205.8 L2079.1 1198.3 L2097.8 1193.3 L2116.5 1182.5 L2135.2 1175.0 L2154.0 1172.5 L2172.7 1171.7 L2191.4 1175.8 L2210.1 1186.7 L2228.9 1178.3 L2247.6 1173.3 L2266.3 1173.3 L2285.0 1165.0 L2303.8 1163.3 L2322.5 1155.0 L2341.2 1154.2 L2359.9 1163.3 L2378.7 1166.7 L2397.4 1155.8 L2416.1 1165.0 L2434.8 1157.5 L2453.6 1153.2 L2472.3 1153.3 L2491.0 1162.5 L2509.7 1163.3 L2528.5 1158.3 L2547.2 1158.3 L2565.9 1145.0 L2584.6 1127.5 L2603.4 1137.5 L2622.1 1147.5 L2640.8 1144.2 L2659.5 1143.3 L2678.3 1144.2 L2697.0 1143.3 L2715.7 1140.0 L2734.4 1135.8 L2753.2 1129.2 L2771.9 1117.5 L2790.6 1118.3 L2809.3 1118.3 L2828.1 1112.5 L2846.8 1123.3 L2865.5 1125.4 L2884.2 1127.5 L2903.0 1120.0 L2921.7 1113.3 L2940.4 1109.2 L2959.1 1106.7 L2977.9 1105.0 L2996.6 1103.3 L3015.3 1101.7 L3034.0 1100.0 L3052.8 1095.8 L3071.5 1095.3 L3090.2 1094.2 L3108.9 1095.8 L3127.7 1103.3 L3146.4 1106.7 L3165.1 1108.3 L3183.8 1109.2 L3202.6 1105.0 L3221.3 1105.0 L3240.0 1110.8" fill="none" stroke="#808080" stroke-opacity="0.3" stroke-width="4.1667" stroke-linejoin="round" stroke-linecap="square"/><path d="M2022.9 1225.0 L2041.6 1225.8 L2060.3 1224.2 L2079.1 1220.0 L2097.8 1226.7 L2116.5 1215.0 L2135.2 1207.5 L2154.0 1200.8 L2172.7 1200.8 L2191.4 1204.2 L2210.1 1214.2 L2228.9 1208.3 L2247.6 1204.2 L2266.3 1203.3 L2285.0 1197.5 L2303.8 1194.2 L2322.5 1185.0 L2341.2 1188.3 L2359.9 1197.5 L2378.7 1202.5 L2397.4 1189.2 L2416.1 1195.8 L2434.8 1190.0 L2453.6 1186.7 L2472.3 1187.5 L2491.0 1195.0 L2509.7 1193.3 L2528.5 1184.2 L2547.2 1180.8 L2565.9 1166.7 L2584.6 1149.2 L2603.4 1161.7 L2622.1 1175.0 L2640.8 1177.5 L2659.5 1173.3 L2678.3 1177.5 L2697.0 1180.0 L2715.7 1196.7 L2734.4 1200.0 L2753.2 1188.3 L2771.9 1178.3 L2790.6 1181.7 L2809.3 1181.7 L2828.1 1171.7 L2846.8 1189.2 L2865.5 1170.0 L2884.2 1168.3 L2903.0 1165.8 L2921.7 1160.8 L2940.4 1155.8 L2959.1 1150.8 L2977.9 1145.8 L2996.6 1141.7 L3015.3 1143.3 L3034.0 1145.0 L3052.8 1146.7 L3071.5 1145.0 L3090.2 1140.0 L3108.9 1143.3 L3127.7 1145.8 L3146.4 1141.7 L3165.1 1139.2 L3183.8 1136.7 L3202.6 1133.3 L3221.3 1131.7 L3240.0 1130.0" fill="none" stroke="#808080" stroke-opacity="0.3" stroke-width="4.1667" stroke-linejoin="round" stroke-linecap="square"/><path d="M2022.9 1255.0 L2041.6 1256.7 L2060.3 1260.8 L2079.1 1270.0 L2097.8 1268.3 L2116.5 1275.8 L2135.2 1258.3 L2154.0 1241.3 L2172.7 1238.3" fill="none" stroke="#808080" stroke-opacity="0.3" stroke-width="4.1667" stroke-linejoin="round" stroke-linecap="square"/><path d="M2603.4 1077.5 L2622.1 1074.2 L2640.8 1073.3 L2659.5 1073.0 L2678.3 1076.7 L2697.0 1070.0 L2715.7 1062.5 L2734.4 1060.0 L2753.2 1055.8 L2771.9 1045.0 L2790.6 1041.7 L2809.3 1030.0 L2828.1 1021.7 L2846.8 1019.2 L2865.5 1013.3 L2884.2 1013.0 L2903.0 1021.3 L2921.7 1021.7 L2940.4 1012.5 L2959.1 1005.8 L2977.9 1004.2 L2996.6 1003.0 L3015.3 1001.7 L3034.0 1001.3 L3052.8 1001.3 L3071.5 1001.7 L3090.2 1002.5 L3108.9 1003.7 L3127.7 1007.5 L3146.4 999.2 L3165.1 1000.3 L3183.8 998.0 L3202.6 998.0 L3221.3 968.7 L3240.0 968.0" fill="none" stroke="#808080" stroke-opacity="0.3" stroke-width="4.1667" stroke-linejoin="round" stroke-linecap="square"/><path d="M2528.5 1215.0 L2547.2 1205.0 L2565.9 1188.3 L2584.6 1171.7 L2603.4 1185.0 L2622.1 1196.7 L2640.8 1201.7" fill="none" stroke="#808080" stroke-opacity="0.3" stroke-width="4.1667" stroke-linejoin="round" stroke-linecap="square"/><path d="M2659.5 1209.2 L2678.3 1205.0 L2697.0 1191.7 L2715.7 1181.7 L2734.4 1170.0 L2753.2 1161.7 L2771.9 1152.5 L2790.6 1155.0 L2809.3 1154.2 L2828.1 1145.0 L2846.8 1136.7 L2865.5 1134.2 L2884.2 1135.0 L2903.0 1141.7 L2921.7 1133.3 L2940.4 1124.2 L2959.1 1120.0 L2977.9 1117.5 L2996.6 1113.3 L3015.3 1115.0 L3034.0 1110.0 L3052.8 1107.5 L3071.5 1109.2 L3090.2 1110.8 L3108.9 1110.8 L3127.7 1110.8 L3146.4 1105.8 L3165.1 1100.0 L3183.8 1080.0 L3202.6 1078.3 L3221.3 1077.5 L3240.0 1078.3" fill="none" stroke="#808080" stroke-opacity="0.3" stroke-width="4.1667" stroke-linejoin="round" stroke-linecap="square"/><path d="M2509.7 1360.0 L2528.5 1350.0 L2547.2 1353.8 L2565.9 1367.5 L2584.6 1369.5 L2603.4 1357.0 L2622.1 1357.5 L2640.8 1359.5 L2659.5 1352.5 L2678.3 1355.0 L2697.0 1346.2 L2715.7 1340.5 L2734.4 1343.8 L2753.2 1355.5 L2771.9 1353.8 L2790.6 1340.0 L2809.3 1330.5 L2828.1 1328.8 L2846.8 1322.5 L2865.5 1322.0 L2884.2 1333.8 L2903.0 1328.8 L2921.7 1335.0 L2940.4 1327.5 L2959.1 1318.3" fill="none" stroke="#808080" stroke-opacity="0.51" stroke-width="4.1667" stroke-linejoin="round" stroke-linecap="square"/><path d="M2790.6 1325.0 L2809.3 1328.0 L2828.1 1326.2 L2846.8 1323.8 L2865.5 1322.5 L2884.2 1333.8 L2903.0 1320.0 L2921.7 1323.8 L2940.4 1312.5 L2959.1 1318.3" fill="none" stroke="#808080" stroke-opacity="0.3" stroke-width="4.1667" stroke-linejoin="round" stroke-linecap="square"/><path d="M2528.5 1215.0 L2547.2 1204.2 L2565.9 1203.3 L2584.6 1207.5 L2603.4 1198.3 L2622.1 1203.3 L2640.8 1201.7 L2659.5 1209.2 L2678.3 1203.3 L2697.0 1207.5 L2715.7 1203.3 L2734.4 1200.0 L2753.2 1191.7 L2771.9 1188.3 L2790.6 1188.0 L2809.3 1193.7 L2828.1 1185.8 L2846.8 1191.7 L2865.5 1195.0 L2884.2 1202.5 L2903.0 1199.2 L2921.7 1195.0 L2940.4 1190.0 L2959.1 1185.0 L2977.9 1183.3 L2996.6 1179.2 L3015.3 1181.7 L3034.0 1183.3 L3052.8 1180.0 L3071.5 1176.7 L3090.2 1175.8 L3108.9 1183.3 L3127.7 1195.0 L3146.4 1201.7 L3165.1 1185.0 L3183.8 1160.0 L3202.6 1153.3 L3221.3 1156.7 L3240.0 1150.8" fill="none" stroke="#808080" stroke-opacity="0.3" stroke-width="4.1667" stroke-linejoin="round" stroke-linecap="square"/><path d="M2640.8 1201.7 L2659.5 1200.0 L2678.3 1193.3 L2697.0 1188.3 L2715.7 1196.7 L2734.4 1199.2 L2753.2 1190.0 L2771.9 1177.5 L2790.6 1182.5 L2809.3 1181.7 L2828.1 1170.8 L2846.8 1189.2 L2865.5 1170.0 L2884.2 1177.5 L2903.0 1175.0 L2921.7 1166.7 L2940.4 1168.3 L2959.1 1162.5 L2977.9 1155.0 L2996.6 1146.7 L3015.3 1148.3 L3034.0 1150.0 L3052.8 1148.3 L3071.5 1146.7 L3090.2 1150.0 L3108.9 1146.7 L3127.7 1141.7 L3146.4 1133.3 L3165.1 1138.3 L3183.8 1130.0 L3202.6 1126.7 L3221.3 1128.3 L3240.0 1123.3" fill="none" stroke="#808080" stroke-opacity="0.3" stroke-width="4.1667" stroke-linejoin="round" stroke-linecap="square"/><path d="M2959.1 1133.3 L2977.9 1128.3 L2996.6 1126.7 L3015.3 1121.7 L3034.0 1113.3 L3052.8 1116.7 L3071.5 1120.0 L3090.2 1121.7 L3108.9 1125.0 L3127.7 1143.3 L3146.4 1133.3 L3165.1 1141.7 L3183.8 1146.7 L3202.6 1140.0 L3221.3 1126.7 L3240.0 1138.3" fill="none" stroke="#808080" stroke-opacity="0.3" stroke-width="4.1667" stroke-linejoin="round" stroke-linecap="square"/><path d="M3108.9 1143.3 L3127.7 1145.0 L3146.4 1143.3 L3165.1 1135.0 L3183.8 1131.7 L3202.6 1126.7 L3221.3 1123.3 L3240.0 1120.0" fill="none" stroke="#808080" stroke-opacity="0.3" stroke-width="4.1667" stroke-linejoin="round" stroke-linecap="square"/><path d="M3146.4 1106.7 L3165.1 1116.7 L3183.8 1106.7 L3202.6 1096.7 L3221.3 1082.5 L3240.0 1083.3" fill="none" stroke="#808080" stroke-opacity="0.3" stroke-width="4.1667" stroke-linejoin="round" stroke-linecap="square"/><path d="M3052.8 1146.7 L3071.5 1136.7 L3090.2 1140.8 L3108.9 1150.8 L3127.7 1159.2 L3146.4 1165.0 L3165.1 1155.0 L3183.8 1135.0 L3202.6 1115.0 L3221.3 1084.2 L3240.0 1083.3" fill="none" stroke="#808080" stroke-opacity="0.3" stroke-width="4.1667" stroke-linejoin="round" stroke-linecap="square"/><path d="M2921.7 1324.2 L2940.4 1327.5 L2959.1 1318.3 L2977.9 1317.5 L2996.6 1319.2 L3015.3 1318.3 L3034.0 1308.3 L3052.8 1304.2 L3071.5 1310.8 L3090.2 1311.7 L3108.9 1308.0 L3127.7 1297.5 L3146.4 1298.3 L3165.1 1288.3 L3183.8 1300.8 L3202.6 1298.3 L3221.3 1297.5 L3240.0 1290.8" fill="none" stroke="#808080" stroke-opacity="0.3" stroke-width="4.1667" stroke-linejoin="round" stroke-linecap="square"/><path d="M450.0 1191.2 L468.7 1195.0 L487.4 1203.8 L506.2 1200.0 L524.9 1200.8 L543.6 1208.8 L562.3 1222.5 L581.1 1211.2 L599.8 1202.5 L618.5 1191.2 L637.2 1192.5 L656.0 1195.5 L674.7 1194.2 L693.4 1197.5 L712.1 1202.0 L730.9 1199.2 L749.6 1201.2 L768.3 1203.8 L787.0 1202.5 L805.8 1200.5 L824.5 1192.5 L843.2 1196.2 L861.9 1194.2 L880.7 1199.2 L899.4 1200.5 L918.1 1203.8 L936.8 1213.8 L955.6 1213.8 L974.3 1211.2 L993.0 1213.2 L1011.7 1217.0 L1030.5 1212.0 L1049.2 1203.8 L1067.9 1209.5 L1086.6 1206.2 L1105.4 1200.5 L1124.1 1193.2 L1142.8 1193.2 L1161.5 1203.8 L1180.3 1207.5 L1199.0 1201.8 L1217.7 1205.0 L1236.4 1206.2 L1255.2 1208.0 L1273.9 1199.5 L1292.6 1197.0 L1311.3 1199.5 L1330.1 1193.0 L1348.8 1203.8 L1367.5 1215.0 L1386.2 1216.2 L1405.0 1214.5 L1423.7 1211.2 L1442.4 1203.0 L1461.1 1211.2 L1479.9 1216.2 L1498.6 1208.8 L1517.3 1214.5 L1536.0 1215.0 L1554.8 1212.5 L1573.5 1213.8 L1592.2 1210.0 L1610.9 1208.8 L1629.7 1207.5 L1648.4 1212.0 L1667.1 1208.8 L1685.8 1203.8 L1704.6 1205.0 L1723.3 1195.0 L1742.0 1192.0 L1760.7 1196.2 L1779.5 1190.5 L1798.2 1188.8 L1816.9 1181.2 L1835.6 1189.5 L1854.4 1187.5 L1873.1 1182.5 L1891.8 1188.8 L1910.5 1182.5 L1929.3 1158.0 L1948.0 1153.8 L1966.7 1152.5 L1985.4 1146.2 L2004.2 1148.8 L2022.9 1145.0 L2041.6 1134.5 L2060.3 1132.5 L2079.1 1127.5 L2097.8 1130.8 L2116.5 1122.5 L2135.2 1115.8 L2154.0 1116.2 L2172.7 1112.0 L2191.4 1114.5 L2210.1 1122.5 L2228.9 1117.5 L2247.6 1115.0 L2266.3 1115.0 L2285.0 1110.0 L2303.8 1107.5 L2322.5 1100.8 L2341.2 1103.8 L2359.9 1108.8 L2378.7 1110.0 L2397.4 1097.0 L2416.1 1102.5 L2434.8 1096.2 L2453.6 1089.5 L2472.3 1089.5 L2491.0 1096.2 L2509.7 1095.0 L2528.5 1090.5 L2547.2 1090.0 L2565.9 1082.0 L2584.6 1070.0 L2603.4 1077.0 L2622.1 1076.2 L2640.8 1075.5 L2659.5 1088.0 L2678.3 1081.2 L2697.0 1080.0 L2715.7 1072.0 L2734.4 1068.8 L2753.2 1060.0 L2771.9 1059.5 L2790.6 1059.5 L2809.3 1051.2 L2828.1 1041.2 L2846.8 1059.5 L2865.5 1058.8 L2884.2 1060.8 L2903.0 1048.3 L2921.7 1039.2 L2940.4 1039.2 L2959.1 1043.0 L2977.9 1033.0 L2996.6 1034.2 L3015.3 1036.3 L3034.0 1036.7 L3052.8 1035.0 L3071.5 1034.2 L3090.2 1040.0 L3108.9 1045.8 L3127.7 1057.5 L3146.4 1061.3 L3165.1 1047.5 L3183.8 1017.5 L3202.6 1017.5 L3221.3 1014.7 L3240.0 1008.3" fill="none" stroke="#808080" stroke-width="4.1667" stroke-linejoin="round" stroke-linecap="square"/><path d="M450.0 1533.8 L468.7 1529.5 L487.4 1536.2 L506.2 1546.2 L524.9 1538.8 L543.6 1538.8 L562.3 1543.0 L581.1 1544.5 L599.8 1543.8 L618.5 1557.5 L637.2 1558.0 L656.0 1557.5 L674.7 1558.0 L693.4 1567.0 L712.1 1567.5 L730.9 1577.5 L749.6 1571.2 L768.3 1577.0 L787.0 1568.8 L805.8 1565.8 L824.5 1565.8 L843.2 1560.0 L861.9 1560.8 L880.7 1568.0 L899.4 1563.3 L918.1 1571.7 L936.8 1566.9 L955.6 1555.0 L974.3 1558.1 L993.0 1557.4 L1011.7 1560.5 L1030.5 1555.0 L1049.2 1547.1 L1067.9 1544.3 L1086.6 1536.7 L1105.4 1547.9 L1124.1 1547.9 L1142.8 1543.1 L1161.5 1541.4 L1180.3 1519.3 L1199.0 1503.8 L1217.7 1496.2 L1236.4 1496.7 L1255.2 1489.5 L1273.9 1477.6 L1292.6 1456.2 L1311.3 1462.0 L1330.1 1455.0 L1348.8 1449.5 L1367.5 1453.0 L1386.2 1450.5 L1405.0 1441.2 L1423.7 1423.8 L1442.4 1424.5 L1461.1 1418.8 L1479.9 1409.5 L1498.6 1413.8 L1517.3 1410.0 L1536.0 1394.5 L1554.8 1395.0 L1573.5 1394.5 L1592.2 1402.0 L1610.9 1397.5 L1629.7 1393.8 L1648.4 1390.0 L1667.1 1382.0 L1685.8 1373.0 L1704.6 1378.8 L1723.3 1372.0 L1742.0 1386.2 L1760.7 1400.0 L1779.5 1398.0 L1798.2 1391.2 L1816.9 1384.5 L1835.6 1381.2 L1854.4 1379.5 L1873.1 1383.8 L1891.8 1389.5 L1910.5 1397.0 L1929.3 1397.5 L1948.0 1403.8 L1966.7 1405.0 L1985.4 1402.5 L2004.2 1392.5 L2022.9 1394.5 L2041.6 1404.5 L2060.3 1403.8 L2079.1 1403.0 L2097.8 1403.8 L2116.5 1405.0 L2135.2 1398.8 L2154.0 1398.0 L2172.7 1388.8 L2191.4 1384.5 L2210.1 1385.0 L2228.9 1384.5 L2247.6 1389.5 L2266.3 1380.0 L2285.0 1378.0 L2303.8 1375.0 L2322.5 1365.0 L2341.2 1363.8 L2359.9 1363.8 L2378.7 1356.2 L2397.4 1357.0 L2416.1 1365.5 L2434.8 1352.5 L2453.6 1351.2 L2472.3 1351.2 L2491.0 1346.2 L2509.7 1340.0 L2528.5 1344.5 L2547.2 1350.0 L2565.9 1352.0 L2584.6 1347.5 L2603.4 1355.5 L2622.1 1352.0 L2640.8 1353.8 L2659.5 1351.2 L2678.3 1347.0 L2697.0 1343.8 L2715.7 1337.0 L2734.4 1333.8 L2753.2 1331.2 L2771.9 1331.2 L2790.6 1337.0 L2809.3 1327.5 L2828.1 1327.0 L2846.8 1321.2 L2865.5 1314.5 L2884.2 1316.2 L2903.0 1317.5 L2921.7 1310.0 L2940.4 1313.8 L2959.1 1315.0 L2977.9 1312.5 L2996.6 1316.7 L3015.3 1306.7 L3034.0 1298.3 L3052.8 1300.8 L3071.5 1295.8 L3090.2 1289.2 L3108.9 1280.8 L3127.7 1263.3 L3146.4 1251.7 L3165.1 1254.2 L3183.8 1244.2 L3202.6 1244.2 L3221.3 1256.7 L3240.0 1235.8" fill="none" stroke="#808080" stroke-width="4.1667" stroke-linejoin="round" stroke-linecap="square"/><path d="M450.0 1342.5 L468.7 1357.5 L487.4 1353.0 L506.2 1350.8 L524.9 1353.8 L543.6 1353.8 L562.3 1340.5 L581.1 1336.2 L599.8 1339.5 L618.5 1340.8 L637.2 1338.0 L656.0 1337.0 L674.7 1340.8 L693.4 1338.0 L712.1 1329.5 L730.9 1328.0 L749.6 1330.5 L768.3 1329.5 L787.0 1325.5 L805.8 1320.8 L824.5 1321.0 L843.2 1323.0 L861.9 1310.0 L880.7 1325.0 L899.4 1327.0 L918.1 1324.2 L936.8 1322.0 L955.6 1323.5 L974.3 1325.8 L993.0 1328.8 L1011.7 1330.8 L1030.5 1325.8 L1049.2 1321.5 L1067.9 1323.0 L1086.6 1324.5 L1105.4 1322.5 L1124.1 1311.2 L1142.8 1313.8 L1161.5 1318.0 L1180.3 1313.8 L1199.0 1307.5 L1217.7 1312.0 L1236.4 1315.5 L1255.2 1310.0 L1273.9 1306.8 L1292.6 1309.5 L1311.3 1309.5 L1330.1 1304.5 L1348.8 1311.2 L1367.5 1315.5 L1386.2 1321.2 L1405.0 1330.8 L1423.7 1332.0 L1442.4 1317.5 L1461.1 1308.8 L1479.9 1318.8 L1498.6 1308.0 L1517.3 1305.5 L1536.0 1303.8 L1554.8 1300.0 L1573.5 1306.2 L1592.2 1315.5 L1610.9 1310.0 L1629.7 1305.0 L1648.4 1300.5 L1667.1 1300.0 L1685.8 1304.5 L1704.6 1301.2 L1723.3 1296.2 L1742.0 1293.0 L1760.7 1294.5 L1779.5 1289.5 L1798.2 1291.2 L1816.9 1282.5 L1835.6 1288.8 L1854.4 1281.2 L1873.1 1283.8 L1891.8 1289.5 L1910.5 1280.5 L1929.3 1269.5 L1948.0 1265.0 L1966.7 1259.5 L1985.4 1251.2 L2004.2 1253.0 L2022.9 1254.5 L2041.6 1243.8 L2060.3 1248.8 L2079.1 1243.8 L2097.8 1243.8 L2116.5 1237.0 L2135.2 1232.0 L2154.0 1238.0 L2172.7 1232.0 L2191.4 1230.0 L2210.1 1228.8 L2228.9 1220.5 L2247.6 1215.0 L2266.3 1214.5 L2285.0 1211.2 L2303.8 1213.8 L2322.5 1213.8 L2341.2 1213.0 L2359.9 1208.0 L2378.7 1211.2 L2397.4 1203.8 L2416.1 1205.5 L2434.8 1209.5 L2453.6 1206.2 L2472.3 1208.0 L2491.0 1212.5 L2509.7 1208.8 L2528.5 1205.5 L2547.2 1201.2 L2565.9 1195.5 L2584.6 1189.5 L2603.4 1192.0 L2622.1 1195.5 L2640.8 1197.0 L2659.5 1196.2 L2678.3 1187.5 L2697.0 1185.0 L2715.7 1178.8 L2734.4 1175.5 L2753.2 1172.0 L2771.9 1168.8 L2790.6 1168.8 L2809.3 1161.2 L2828.1 1152.0 L2846.8 1160.0 L2865.5 1164.5 L2884.2 1160.5 L2903.0 1158.8 L2921.7 1153.0 L2940.4 1152.5 L2959.1 1149.2 L2977.9 1148.7 L2996.6 1134.7 L3015.3 1135.3 L3034.0 1136.7 L3052.8 1133.7 L3071.5 1131.3 L3090.2 1129.7 L3108.9 1130.0 L3127.7 1139.2 L3146.4 1137.5 L3165.1 1133.7 L3183.8 1126.7 L3202.6 1120.0 L3221.3 1115.0 L3240.0 1117.5" fill="none" stroke="#000" stroke-width="8.333" stroke-linejoin="round" stroke-linecap="square"/><path d="M450.0 1435.0 L468.7 1422.5 L487.4 1421.2 L506.2 1428.8 L524.9 1442.0 L543.6 1437.0 L562.3 1436.2 L581.1 1428.8 L599.8 1416.2 L618.5 1410.0 L637.2 1426.2 L656.0 1427.0 L674.7 1431.2 L693.4 1440.0 L712.1 1441.2 L730.9 1436.2 L749.6 1443.8 L768.3 1443.8 L787.0 1440.0 L805.8 1457.0 L824.5 1456.2 L843.2 1456.2 L861.9 1454.5 L880.7 1450.0 L899.4 1440.0 L918.1 1443.8 L936.8 1440.0 L955.6 1433.0 L974.3 1433.8 L993.0 1421.2 L1011.7 1423.8 L1030.5 1421.2 L1049.2 1414.5 L1067.9 1407.5 L1086.6 1391.2 L1105.4 1391.2 L1124.1 1377.5 L1142.8 1380.5 L1161.5 1385.0 L1180.3 1395.0 L1199.0 1381.2 L1217.7 1388.8 L1236.4 1372.5 L1255.2 1360.0 L1273.9 1354.5 L1292.6 1362.0 L1311.3 1370.0 L1330.1 1363.8 L1348.8 1351.2 L1367.5 1335.0 L1386.2 1322.0 L1405.0 1323.8 L1423.7 1327.0 L1442.4 1335.0 L1461.1 1347.5 L1479.9 1352.0 L1498.6 1360.0 L1517.3 1357.5 L1536.0 1336.2 L1554.8 1351.2 L1573.5 1334.5 L1592.2 1342.0 L1610.9 1352.5 L1629.7 1354.5" fill="none" stroke="#008000" stroke-width="12.5" stroke-linejoin="round" stroke-linecap="square"/></g><path d="M619 1838V210M993 1838V210M1368 1838V210M1742 1838V210M2117 1838V210M2491 1838V210M2866 1838V210M450 1431H3240M450 1024H3240M450 617H3240" stroke="#000" stroke-width="2.0833" stroke-dasharray="4.1667 12.5" fill="none"/><path d="M619 1838v-16.667M619 210v16.667M993 1838v-16.667M993 210v16.667M1368 1838v-16.667M1368 210v16.667M1742 1838v-16.667M1742 210v16.667M2117 1838v-16.667M2117 210v16.667M2491 1838v-16.667M2491 210v16.667M2866 1838v-16.667M2866 210v16.667M450 1431h16.667M3240 1431h-16.667M450 1024h16.667M3240 1024h-16.667M450 617h16.667M3240 617h-16.667" stroke="#000" stroke-width="2.0833" fill="none"/><rect x="2615" y="245" width="590" height="417" fill="#fff" stroke="#000" stroke-width="4.1667"/><path d="M2664 297.9H2762" stroke="#808080" stroke-width="4.1667" stroke-linecap="square"/><text x="2838.6" y="321.9" font-size="70" style="font-family:'Liberation Serif',serif">13%</text><path d="M2664 397.1H2762" stroke="#808080" stroke-width="4.1667" stroke-linecap="square"/><text x="2838.6" y="421.1" font-size="70" style="font-family:'Liberation Serif',serif">87%</text><path d="M2664 496.3H2762" stroke="#000" stroke-width="8.333" stroke-linecap="square"/><text x="2838.6" y="520.3" font-size="70" style="font-family:'Liberation Serif',serif">Mediāna</text><path d="M2664 595.5H2762" stroke="#008000" stroke-width="12.5" stroke-linecap="square"/><text x="2838.6" y="619.5" font-size="70" style="font-family:'Liberation Serif',serif">Novērojumi</text><rect x="450" y="210" width="2790" height="1628" fill="none" stroke="#000" stroke-width="4.1667"/><g style="font-family:'Liberation Serif',serif" fill="#000"><text x="1845.0" y="190.2" font-size="70.0" text-anchor="middle">Alūksne.Feb</text><text x="433.33" y="1853.10" font-size="58.333" text-anchor="end">200</text><text x="433.33" y="1446.22" font-size="58.333" text-anchor="end">250</text><text x="433.33" y="1039.35" font-size="58.333" text-anchor="end">300</text><text x="433.33" y="632.48" font-size="58.333" text-anchor="end">350</text><text x="433.33" y="225.60" font-size="58.333" text-anchor="end">400</text><text x="618.52" y="1894.7" font-size="58.333" text-anchor="middle">1960</text><text x="993.02" y="1894.7" font-size="58.333" text-anchor="middle">1980</text><text x="1367.52" y="1894.7" font-size="58.333" text-anchor="middle">2000</text><text x="1742.01" y="1894.7" font-size="58.333" text-anchor="middle">2020</text><text x="2116.51" y="1894.7" font-size="58.333" text-anchor="middle">2040</text><text x="2491.01" y="1894.7" font-size="58.333" text-anchor="middle">2060</text><text x="2865.50" y="1894.7" font-size="58.333" text-anchor="middle">2080</text><text x="3240.00" y="1894.7" font-size="58.333" text-anchor="middle">2100</text><text x="1845.0" y="1967.9" font-size="58.333" text-anchor="middle">Gads</text><text transform="translate(307,1634.1) rotate(-90)" font-size="58.333">Garo viļņu radiācija uz horizontālas virsmas,</text><text transform="translate(307,574.5) rotate(-90) scale(1.178,1)" font-size="58.333" font-style="italic">W</text><text transform="translate(307,489.7) rotate(-90) scale(1.254,1)" font-size="58.333" font-style="italic">m</text><path transform="translate(284.3,433.9) rotate(-90) scale(0.020021,-0.019629)" d="M911 0H90V147L276 316Q455 473 539.0 570.0Q623 667 659.5 770.0Q696 873 696 1006Q696 1136 637.0 1204.0Q578 1272 444 1272Q391 1272 335.0 1257.5Q279 1243 236 1219L201 1055H135V1313Q317 1356 444 1356Q664 1356 774.5 1264.5Q885 1173 885 1006Q885 894 841.5 794.5Q798 695 708.0 596.5Q618 498 410 321Q321 245 221 154H911Z"/><path d="M319.3 513.6L263.5 492.8" stroke="#000" stroke-width="3.2"/></g></svg></body></html>
